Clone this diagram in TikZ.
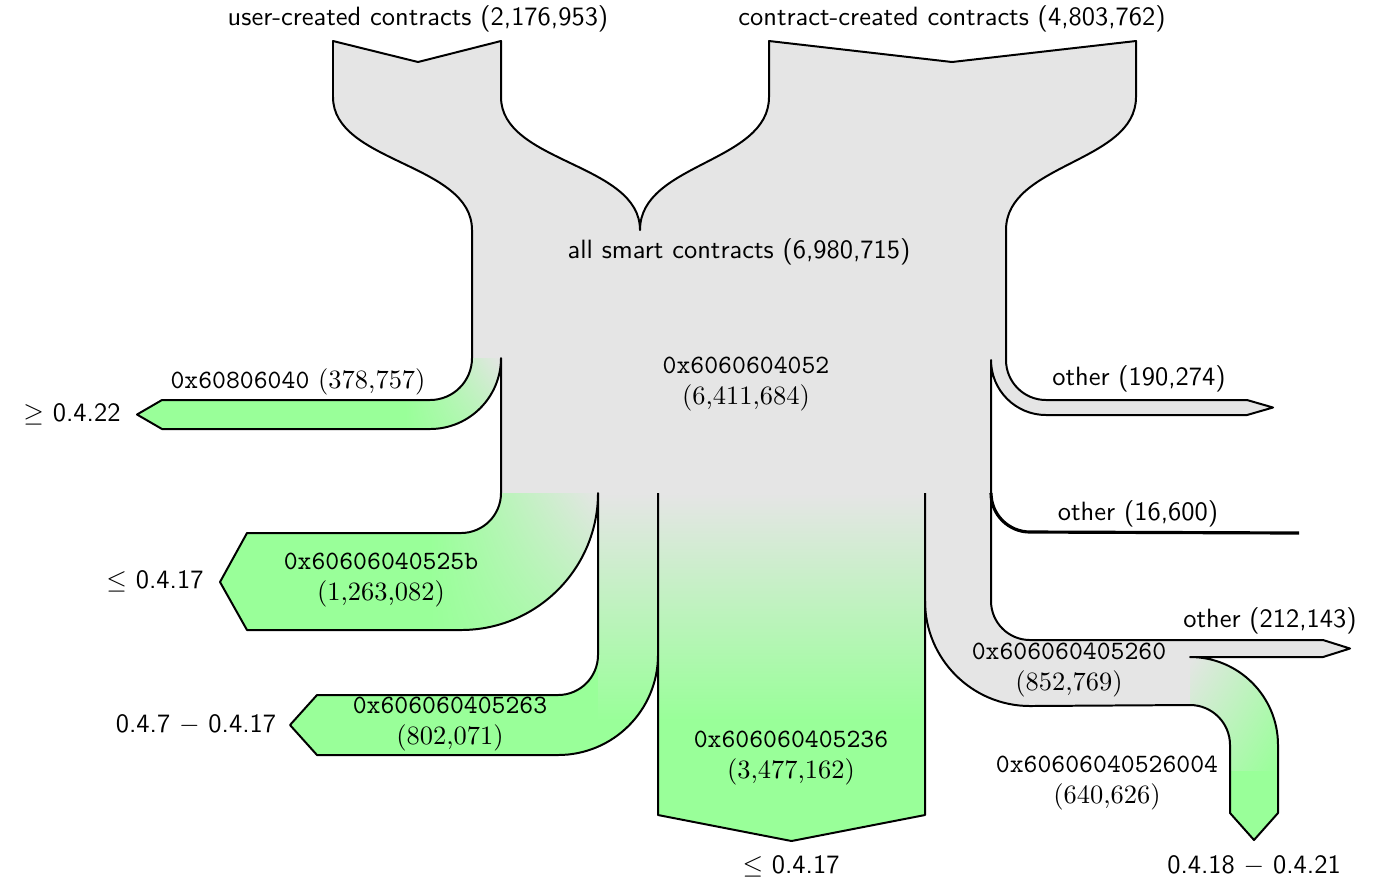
\documentclass[tikz,border=0pt]{standalone}
\usetikzlibrary{shadings}
\definecolor{flowgray}{RGB}{229,229,229}
\definecolor{flowgreen}{RGB}{153,255,153}
\begin{document}
\begin{tikzpicture}[x=0.378pt,y=-0.378pt,
  edge/.style={draw=black,line width=0.75pt,line join=round},
  lbl/.style={font=\sffamily,inner sep=0pt},
  hex/.style={font=\rmfamily,align=center,inner sep=0pt}]
\useasboundingbox (0,0) rectangle (1379,882);

% ---- grey flows: the two inputs, the common trunk and the grey branches
\fill[flowgray] (333,41) -- (418,62) -- (501,41) -- (501,97)
  .. controls (501,163) and (640,163) .. (640,230) -- (472,230)
  .. controls (472,163) and (333,163) .. (333,97) -- cycle;
\fill[flowgray] (769,41) -- (952,62) -- (1136,41) -- (1136,97)
  .. controls (1136,163) and (1006,163) .. (1006,230) -- (640,230)
  .. controls (640,163) and (769,163) .. (769,97) -- cycle;
\fill[flowgray] (472,229) -- (1006,229) -- (1006,361) -- (991,361)
  -- (991,494) -- (501,494) -- (501,358) -- (472,358) -- cycle;
\fill[flowgray] (1006,360) arc[start angle=180,end angle=90,radius=40]
  -- (1247,400) -- (1273,407.5) -- (1247,415) -- (1046,415)
  arc[start angle=90,end angle=180,radius=55] -- cycle;
\fill[flowgray] (925,493) -- (991,493) -- (991,601)
  arc[start angle=180,end angle=90,radius=39] -- (1323,640) -- (1350,648.5)
  -- (1323,657) -- (1190,657) -- (1190,706) -- (1030,706)
  arc[start angle=90,end angle=180,radius=105] -- cycle;

% ---- green branches, each fading in from the grey trunk
\def\pathA{(472,358) arc[start angle=0,end angle=90,radius=42] -- (162,400)
  -- (137,414.5) -- (162,429) -- (430,429) arc[start angle=90,end angle=0,radius=71] -- cycle}
\fill[flowgreen] \pathA;
\begin{scope}
  \clip \pathA;
  \shade[upper right=flowgray,lower left=flowgreen,
         upper left=flowgreen,lower right=flowgray!45!flowgreen]
    (405,358) rectangle (501,429);
\end{scope}

\def\pathB{(501,493) arc[start angle=0,end angle=90,radius=40] -- (247,533)
  -- (220,582) -- (247,630) -- (461,630) arc[start angle=90,end angle=0,radius=137] -- cycle}
\fill[flowgreen] \pathB;
\begin{scope}
  \clip \pathB;
  \shade[upper right=flowgray,lower left=flowgreen,
         upper left=flowgreen,lower right=flowgray!35!flowgreen]
    (430,493) rectangle (598,635);
\end{scope}

\def\pathC{(598,493) -- (598,655) arc[start angle=0,end angle=90,radius=40] -- (317,695)
  -- (290,725) -- (317,755) -- (558,755) arc[start angle=90,end angle=0,radius=100]
  -- (658,493) -- cycle}
\fill[flowgreen] \pathC;
\begin{scope}
  \clip \pathC;
  \shade[top color=flowgray,bottom color=flowgreen] (598,493) rectangle (658,720);
\end{scope}

\fill[flowgreen] (658,493) -- (658,815) -- (791.5,841) -- (925,815) -- (925,493) -- cycle;
\shade[top color=flowgray,bottom color=flowgreen] (658,493) rectangle (925,720);

\def\pathD{(1190,657) arc[start angle=-90,end angle=0,radius=88] -- (1278,813)
  -- (1254,840) -- (1230,813) -- (1230,745) arc[start angle=0,end angle=-90,radius=40] -- cycle}
\fill[flowgreen] \pathD;
\begin{scope}
  \clip \pathD;
  \shade[upper left=flowgray,lower right=flowgreen,
         upper right=flowgray!40!flowgreen,lower left=flowgray!50!flowgreen]
    (1190,657) rectangle (1278,770);
\end{scope}

% ---- outlines
\draw[edge] (472,358) -- (472,230) .. controls (472,163) and (333,163) .. (333,97)
  -- (333,41) -- (418,62) -- (501,41) -- (501,97)
  .. controls (501,163) and (640,163) .. (640,230)
  .. controls (640,163) and (769,163) .. (769,97)
  -- (769,41) -- (952,62) -- (1136,41) -- (1136,97)
  .. controls (1136,163) and (1006,163) .. (1006,230) -- (1006,360)
  arc[start angle=180,end angle=90,radius=40]
  -- (1247,400) -- (1273,407.5) -- (1247,415) -- (1046,415)
  arc[start angle=90,end angle=180,radius=55] -- (991,601)
  arc[start angle=180,end angle=90,radius=39]
  -- (1323,640) -- (1350,648.5) -- (1323,657) -- (1190,657)
  arc[start angle=-90,end angle=0,radius=88] -- (1278,813) -- (1254,840)
  -- (1230,813) -- (1230,745) arc[start angle=0,end angle=-90,radius=40]
  -- (1030,706) arc[start angle=90,end angle=180,radius=105] -- (925,493);
\draw[edge] (472,358) arc[start angle=0,end angle=90,radius=42] -- (162,400)
  -- (137,414.5) -- (162,429) -- (430,429) arc[start angle=90,end angle=0,radius=71]
  -- (501,493) arc[start angle=0,end angle=90,radius=40] -- (247,533)
  -- (220,582) -- (247,630) -- (461,630) arc[start angle=90,end angle=0,radius=137]
  -- (598,655) arc[start angle=0,end angle=90,radius=40] -- (317,695)
  -- (290,725) -- (317,755) -- (558,755) arc[start angle=90,end angle=0,radius=100]
  -- (658,493);
\draw[edge] (658,655) -- (658,815) -- (791.5,841) -- (925,815) -- (925,601);
\draw[draw=black,line width=1.2pt] (991,493) arc[start angle=180,end angle=90,radius=39]
  -- (1299,533);

% ---- labels
\node[lbl] (uc) at (418,19) {user-created contracts (2,176,953)};
\node[lbl] (cc) at (952,19) {contract-created contracts (4,803,762)};
\node[lbl] (all) at (739,252) {all smart contracts (6,980,715)};
\node[hex] (h52) at (746,384) {\texttt{0x6060604052}\\(6,411,684)};
\node[hex] (h80) at (298,382) {\texttt{0x60806040} (378,757)};
\node[lbl] (v22) at (72,414) {$\geq$ 0.4.22};
\node[hex] (h5b) at (381,580) {\texttt{0x60606040525b}\\(1,263,082)};
\node[lbl] (v17a) at (155,581) {$\leq$ 0.4.17};
\node[hex] (h63) at (450,724) {\texttt{0x606060405263}\\(802,071)};
\node[lbl] (v7) at (196,725) {0.4.7 $-$ 0.4.17};
\node[hex] (h36) at (791,758) {\texttt{0x606060405236}\\(3,477,162)};
\node[lbl] (v17b) at (791,866) {$\leq$ 0.4.17};
\node[hex] (h60) at (1069,670) {\texttt{0x606060405260}\\(852,769)};
\node[hex] (h04) at (1107,783) {\texttt{0x60606040526004}\\(640,626)};
\node[lbl] (v18) at (1254,866) {0.4.18 $-$ 0.4.21};
\node[lbl] (o1) at (1139,379) {other (190,274)};
\node[lbl] (o2) at (1138,514) {other (16,600)};
\node[lbl] (o3) at (1270,621) {other (212,143)};
\end{tikzpicture}
\end{document}
